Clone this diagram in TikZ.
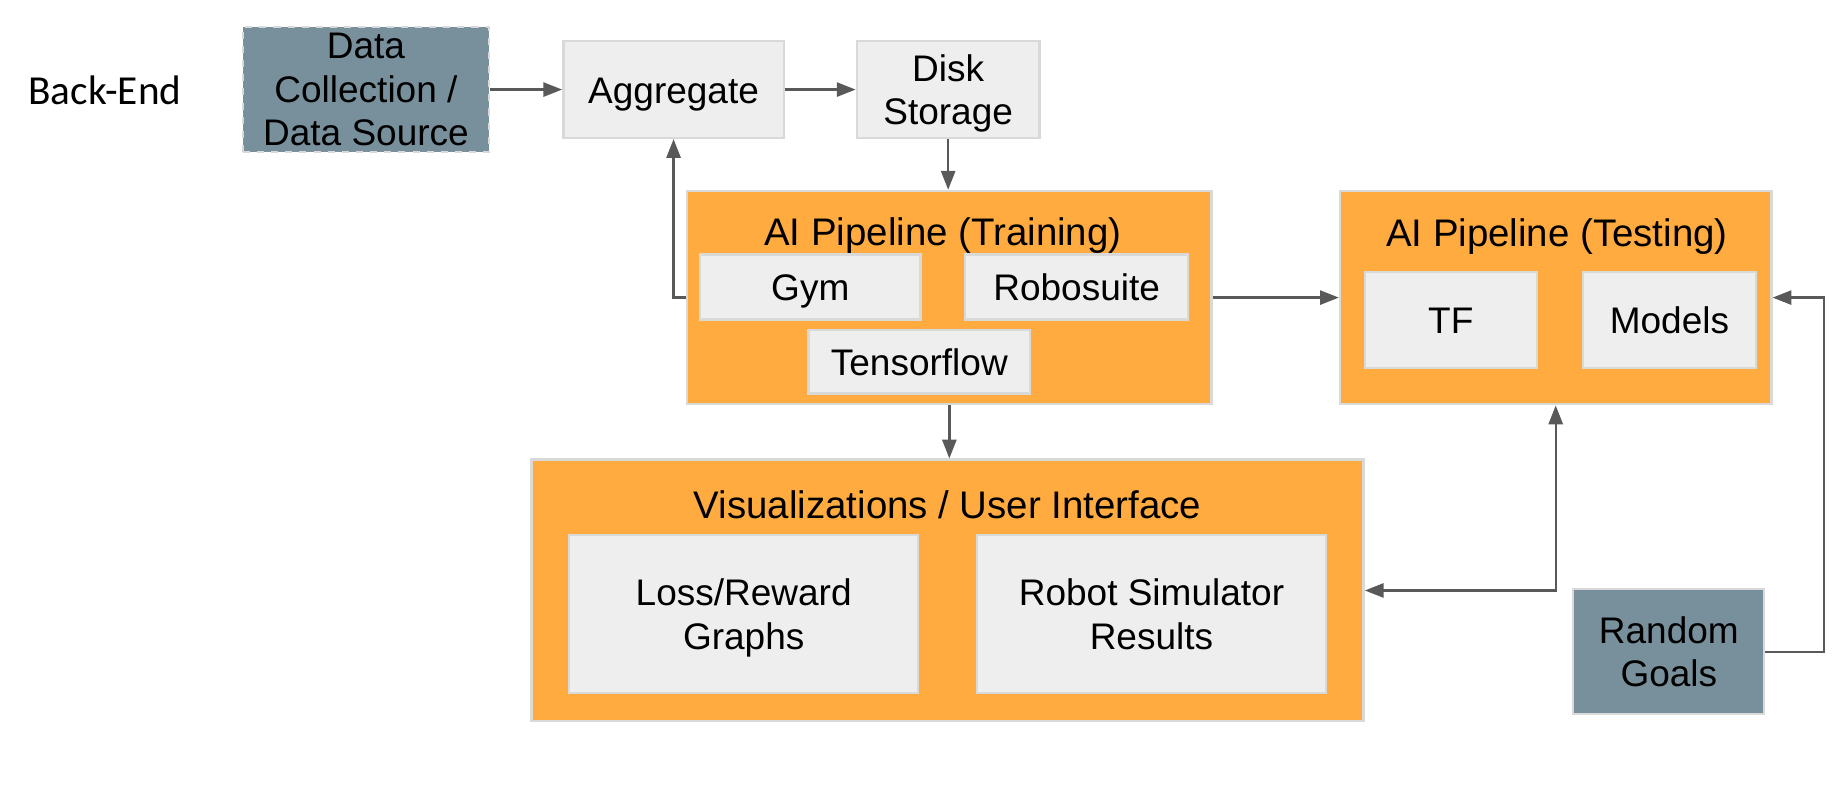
\documentclass[tikz,border=0pt]{standalone}
\usepackage{fontspec}
\setmainfont{Liberation Sans}
\newfontfamily\labelfont{Carlito}
\usetikzlibrary{arrows.meta}
\definecolor{boxfill}{HTML}{EEEEEE}
\definecolor{boxline}{HTML}{D9D9D9}
\definecolor{pipefill}{HTML}{FFAB40}
\definecolor{slatefill}{HTML}{78909C}
\definecolor{arrowline}{HTML}{595959}

\begin{document}
\begin{tikzpicture}[x=0.5pt, y=-0.5pt,
		font=\fontsize{15.7}{18.4}\selectfont,
		box/.style = {draw=boxline, line width=1pt, fill=boxfill, align=center, inner sep=0pt, text depth=0pt},
		onebox/.style = {box, text height=14.5pt, text depth=3pt},
		pipe/.style = {draw=boxline, line width=1pt, fill=pipefill, inner sep=0pt},
		src/.style = {draw=boxline, line width=0.8pt, fill=slatefill, align=center, inner sep=0pt},
		title/.style = {font=\fontsize{16.3}{19}\selectfont},
		conn/.style = {draw=arrowline, line width=1pt, -{Triangle[length=8pt, width=6pt]}}]
		\useasboundingbox (0, 0) rectangle (1568, 680);
		\node [font=\labelfont\fontsize{17.5}{20}\selectfont] (backend) at (89, 77) {Back-End};
		\node [src, dashed, minimum width=104.5pt, minimum height=53pt] (source) at (310.5, 76) {Data\\Collection /\\Data Source};
		\node [onebox, minimum width=93.5pt, minimum height=41pt] (aggregate) at (571.5, 76) {Aggregate};
		\node [box, minimum width=77.5pt, minimum height=41pt] (disk) at (804.5, 76) {Disk\\Storage};
	% training
		\node [pipe, minimum width=222.5pt, minimum height=90.5pt] (train) at (805.5, 252.5) {};
		\node [title] (traintitle) at (800, 199.5) {AI Pipeline (Training)};
		\node [onebox, minimum width=93.5pt, minimum height=27.5pt] (gym) at (687.5, 243.5) {Gym};
		\node [onebox, minimum width=94.5pt, minimum height=27.5pt] (robo) at (913.5, 243.5) {Robosuite};
		\node [onebox, minimum width=94pt, minimum height=27pt] (tensor) at (780, 307) {Tensorflow};
	% testing
		\node [pipe, minimum width=183pt, minimum height=90.5pt] (test) at (1320, 252.5) {};
		\node [title] (testtitle) at (1321, 201) {AI Pipeline (Testing)};
		\node [onebox, minimum width=73pt, minimum height=40.5pt] (tf) at (1231, 271.5) {TF};
		\node [onebox, minimum width=73.5pt, minimum height=40.5pt] (models) at (1416.5, 271.5) {Models};
	% visualizations
		\node [pipe, minimum width=353pt, minimum height=111pt] (vis) at (804, 501) {};
		\node [title] (vistitle) at (804, 428) {Visualizations / User Interface};
		\node [box, minimum width=148pt, minimum height=67pt] (loss) at (631, 521) {Loss/Reward\\Graphs};
		\node [box, minimum width=148pt, minimum height=67pt] (robot) at (977, 521) {Robot Simulator\\Results};
		\node [src, minimum width=81pt, minimum height=53pt] (goals) at (1416, 553) {Random\\Goals};
	% connectors
		\draw [conn] (source) to (aggregate);
		\draw [conn] (aggregate) to (disk);
		\draw [conn] (disk.south) to (disk.south |- train.north);
		\draw [conn] (train.west) -| (aggregate.south);
		\draw [conn] (train.east) to (train.east -| test.west);
		\draw [conn] (train.south) to (train.south |- vis.north);
		\draw [conn, {Triangle[length=8pt, width=6pt]}-{Triangle[length=8pt, width=6pt]}] (vis.east) -| (test.south);
		\draw [conn] (goals.east) -- ++(50, 0) |- (test.east);
\end{tikzpicture}
\end{document}
